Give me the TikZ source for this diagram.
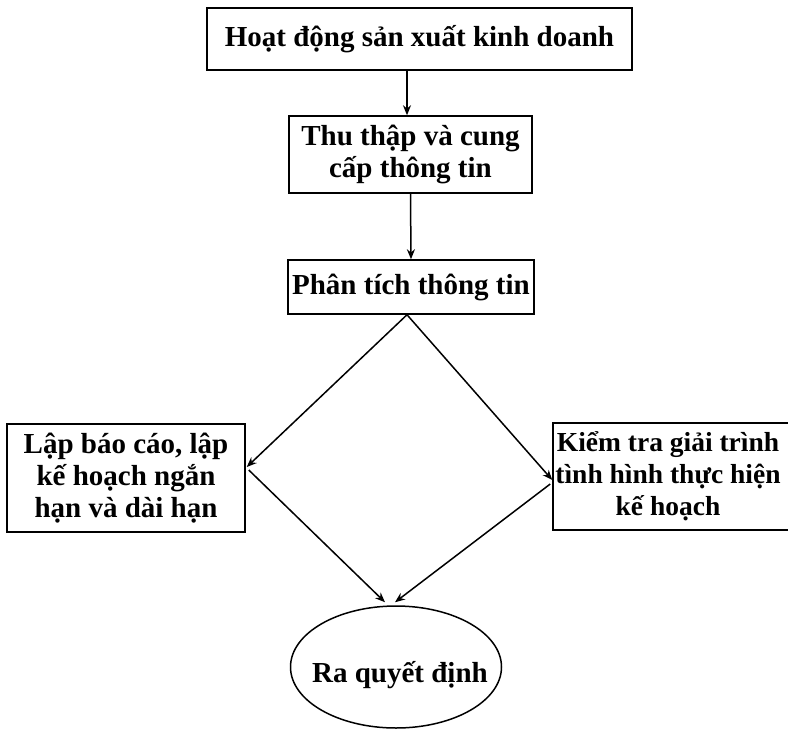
\documentclass[tikz,border=0pt]{standalone}
\usepackage{fontspec}
\setmainfont{Liberation Serif}
\usetikzlibrary{shapes.geometric,arrows.meta,calc}
\begin{document}
\begin{tikzpicture}[x=1pt,y=-1pt,
  every node/.style={font=\bfseries\fontsize{29}{32}\selectfont},
  box/.style={draw,line width=1.5pt,rectangle,align=center,inner sep=0pt},
  arr/.style={line width=1.5pt,-{Stealth[length=10pt,width=8pt]}}]
\useasboundingbox (0,0) rectangle (788,729);
\node[box,minimum width=425pt,minimum height=62pt] (top) at (419.5,39) {Hoạt động sản xuất kinh doanh};
\node[box,minimum width=243pt,minimum height=77pt] (collect) at (410.5,154.5) {Thu thập và cung\\cấp thông tin};
\node[box,minimum width=246pt,minimum height=54pt] (analyse) at (411,287) {Phân tích thông tin};
\node[box,minimum width=238pt,minimum height=108pt] (plan) at (126,478) {Lập báo cáo, lập\\kế hoạch ngắn\\hạn và dài hạn};
\node[box,minimum width=237pt,minimum height=107pt] (check) at (671.5,476.5) {};
\node[font=\bfseries\fontsize{27.5}{32}\selectfont,align=center,inner sep=0pt] (checktext) at (668,476.5) {Kiểm tra giải trình\\tình hình thực hiện\\kế hoạch};
\node[draw,ellipse,line width=1.5pt,minimum width=211pt,minimum height=122pt,inner sep=0pt] (decide) at (396,667) {\raisebox{-15pt}[0pt][0pt]{\makebox[0pt]{\hspace*{8pt}Ra quyết định}}};
\coordinate (apex) at ($(analyse.south)+(-4,0)$);
\coordinate (planin) at ($(plan.east)+(1,-11)$);
\coordinate (planout) at ($(plan.east)+(3,-8)$);
\coordinate (checkin) at ($(check.west)+(0,3.5)$);
\coordinate (checkout) at ($(check.west)+(-2,7.5)$);
\coordinate (decl) at ($(decide.north)+(-11,-3)$);
\coordinate (decr) at ($(decide.north)+(-1,-3)$);
\draw[arr] (top.south -| 407,0) -- (collect.north -| 407,0);
\draw[arr] (collect.south) -- (analyse.north);
\draw[arr] (apex) -- (planin);
\draw[arr] (apex) -- (checkin);
\draw[arr] (planout) -- (decl);
\draw[arr] (checkout) -- (decr);
\end{tikzpicture}
\end{document}
